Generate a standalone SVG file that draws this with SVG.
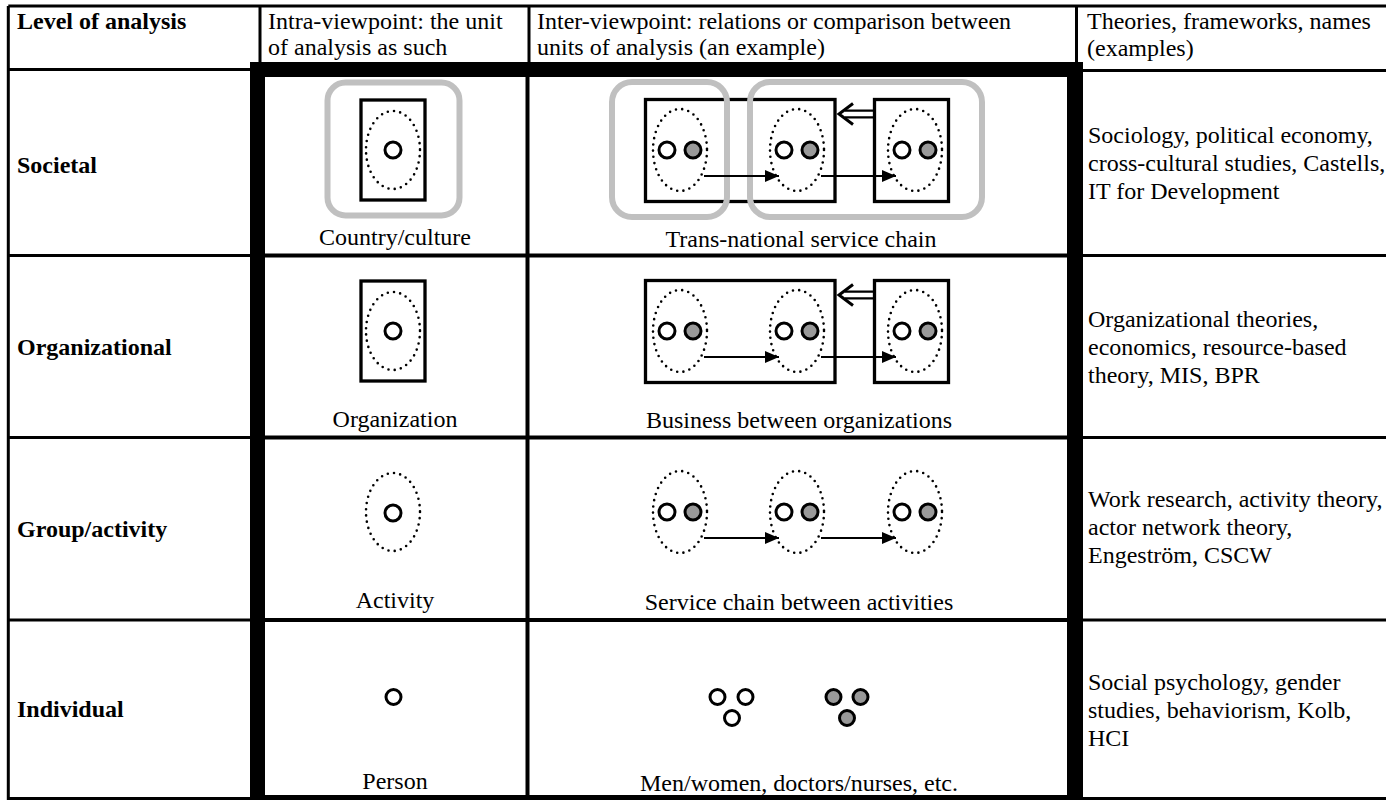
<svg xmlns="http://www.w3.org/2000/svg" width="1386" height="800" viewBox="0 0 1386 800" font-family="'Liberation Serif', 'Times New Roman', 'DejaVu Serif', serif">
  <defs>
    <style>
      text { font-family: 'Liberation Serif', 'Times New Roman', 'DejaVu Serif', serif; font-size: 24px; fill: #000; }
      .b { font-weight: bold; }
      .mid { text-anchor: middle; }
      .thin { stroke: #000; stroke-width: 3; fill: none; }
      .sep { stroke: #000; stroke-width: 4; fill: none; }
      .box { fill: none; stroke: #000; stroke-width: 3.3; }
      .grp { fill: none; stroke: #c0c0c0; stroke-width: 6; }
      .act { fill: none; stroke: #000; stroke-width: 2.6; stroke-dasharray: 0 6.3; stroke-linecap: round; }
      .p { fill: #fff; stroke: #000; stroke-width: 3; }
      .pg { fill: #999; stroke: #000; stroke-width: 3; }
      .flow { stroke: #000; stroke-width: 2; fill: none; marker-end: url(#ah); }
      .dbl { stroke: #000; stroke-width: 2.2; fill: none; }
      .chev { stroke: #000; stroke-width: 3; fill: none; stroke-linejoin: miter; }
    </style>
    <marker id="ah" viewBox="0 0 14 12" refX="14" refY="6" markerWidth="14" markerHeight="12" markerUnits="userSpaceOnUse" orient="auto">
      <path d="M0,0 L14,6 L0,12 z" fill="#000"/>
    </marker>
  </defs>

  <rect width="1386" height="800" fill="#fff"/>

  <!-- table grid -->
  <g id="grid">
    <path class="thin" d="M8.3,6 H1386 M8.3,6 V798.5 H250 M1083,798.5 H1386"/>
    <path class="thin" d="M260,6 V62 M529,6 V62 M1076.5,6 V62"/>
    <path class="thin" d="M8.3,69.5 H250 M1083,70.5 H1386"/>
    <path class="thin" d="M8.3,255.5 H250 M8.3,437.5 H250 M8.3,620 H250"/>
    <path class="thin" d="M1083,255.5 H1386 M1083,437.5 H1386 M1083,620 H1386"/>
    <path class="sep" d="M265,255.5 H1067 M265,437.5 H1067 M265,620 H1067 M527.5,77 V795"/>
    <path fill="#000" fill-rule="evenodd" d="M250,62 H1083 V800 H250 Z M265,77 V795 H1067 V77 Z"/>
  </g>

  <!-- header row -->
  <g id="header">
    <text class="b" x="17" y="29">Level of analysis</text>
    <text x="268" y="29">Intra-viewpoint: the unit</text>
    <text x="268" y="55">of analysis as such</text>
    <text x="537" y="29">Inter-viewpoint: relations or comparison between</text>
    <text x="537" y="55">units of analysis (an example)</text>
    <text x="1087" y="29">Theories, frameworks, names</text>
    <text x="1087" y="56">(examples)</text>
  </g>

  <!-- societal level -->
  <g id="societal-level"><text class="b" x="17" y="173">Societal</text></g>
  <g id="societal-intra">
    <rect class="box" x="361" y="100" width="64" height="100"/>
    <ellipse class="act" cx="393" cy="150" rx="27" ry="39"/>
    <circle class="p" cx="393" cy="150" r="8"/>
    <rect class="grp" x="327.5" y="82.5" width="132" height="133" rx="18"/>
    <text class="mid" x="395" y="245">Country/culture</text>
  </g>
  <g id="societal-inter">
    <rect class="box" x="645.5" y="99.5" width="189.5" height="102"/>
    <rect class="box" x="874.5" y="99.5" width="74" height="102"/>
    <ellipse class="act" cx="680" cy="150" rx="27" ry="41"/>
    <ellipse class="act" cx="797" cy="150" rx="27" ry="41"/>
    <ellipse class="act" cx="915" cy="150" rx="27" ry="41"/>
    <circle class="p" cx="667" cy="150" r="8"/><circle class="pg" cx="693" cy="150" r="8"/>
    <circle class="p" cx="784" cy="150" r="8"/><circle class="pg" cx="810" cy="150" r="8"/>
    <circle class="p" cx="902" cy="150" r="8"/><circle class="pg" cx="928" cy="150" r="8"/>
    <rect class="grp" x="612" y="82" width="115" height="135" rx="20"/>
    <rect class="grp" x="750" y="82" width="232" height="135" rx="20"/>
    <text class="mid" x="801" y="247">Trans-national service chain</text>
  </g>
  <g id="societal-theories">
    <text x="1088" y="143">Sociology, political economy,</text>
    <text x="1088" y="171">cross-cultural studies, Castells,</text>
    <text x="1088" y="199">IT for Development</text>
  </g>

  <!-- organizational level -->
  <g id="organizational-level"><text class="b" x="17" y="355">Organizational</text></g>
  <g id="organizational-intra">
    <rect class="box" x="361" y="281" width="64" height="100"/>
    <ellipse class="act" cx="393" cy="331" rx="27" ry="39"/>
    <circle class="p" cx="393" cy="331" r="8"/>
    <text class="mid" x="395" y="427">Organization</text>
  </g>
  <g id="organizational-inter">
    <rect class="box" x="645.5" y="280.5" width="189.5" height="102"/>
    <rect class="box" x="874.5" y="280.5" width="74" height="102"/>
    <ellipse class="act" cx="680" cy="331" rx="27" ry="41"/>
    <ellipse class="act" cx="797" cy="331" rx="27" ry="41"/>
    <ellipse class="act" cx="915" cy="331" rx="27" ry="41"/>
    <circle class="p" cx="667" cy="331" r="8"/><circle class="pg" cx="693" cy="331" r="8"/>
    <circle class="p" cx="784" cy="331" r="8"/><circle class="pg" cx="810" cy="331" r="8"/>
    <circle class="p" cx="902" cy="331" r="8"/><circle class="pg" cx="928" cy="331" r="8"/>
    <text class="mid" x="799" y="428">Business between organizations</text>
  </g>
  <g id="organizational-theories">
    <text x="1088" y="327">Organizational theories,</text>
    <text x="1088" y="355">economics, resource-based</text>
    <text x="1088" y="383">theory, MIS, BPR</text>
  </g>

  <!-- group/activity level -->
  <g id="group-level"><text class="b" x="17" y="537">Group/activity</text></g>
  <g id="group-intra">
    <ellipse class="act" cx="393" cy="512" rx="27" ry="39"/>
    <circle class="p" cx="393" cy="513" r="8"/>
    <text class="mid" x="395" y="608">Activity</text>
  </g>
  <g id="group-inter">
    <ellipse class="act" cx="680" cy="512" rx="27" ry="41"/>
    <ellipse class="act" cx="797" cy="512" rx="27" ry="41"/>
    <ellipse class="act" cx="915" cy="512" rx="27" ry="41"/>
    <circle class="p" cx="667" cy="512" r="8"/><circle class="pg" cx="693" cy="512" r="8"/>
    <circle class="p" cx="784" cy="512" r="8"/><circle class="pg" cx="810" cy="512" r="8"/>
    <circle class="p" cx="902" cy="512" r="8"/><circle class="pg" cx="928" cy="512" r="8"/>
    <text class="mid" x="799" y="610">Service chain between activities</text>
  </g>
  <g id="group-theories">
    <text x="1088" y="507">Work research, activity theory,</text>
    <text x="1088" y="535">actor network theory,</text>
    <text x="1088" y="563">Engeström, CSCW</text>
  </g>

  <!-- individual level -->
  <g id="individual-level"><text class="b" x="17" y="717">Individual</text></g>
  <g id="individual-intra">
    <circle class="p" cx="393.5" cy="697" r="7.5"/>
    <text class="mid" x="395" y="789">Person</text>
  </g>
  <g id="individual-inter">
    <circle class="p" cx="717.5" cy="697" r="7.5"/>
    <circle class="p" cx="745.5" cy="697" r="7.5"/>
    <circle class="p" cx="732" cy="718" r="7.5"/>
    <circle class="pg" cx="833.5" cy="697" r="7.5"/>
    <circle class="pg" cx="860.5" cy="697" r="7.5"/>
    <circle class="pg" cx="847" cy="718" r="7.5"/>
    <text class="mid" x="799" y="791">Men/women, doctors/nurses, etc.</text>
  </g>
  <g id="individual-theories">
    <text x="1088" y="690">Social psychology, gender</text>
    <text x="1088" y="718">studies, behaviorism, Kolb,</text>
    <text x="1088" y="746">HCI</text>
  </g>

  <!-- connectors -->
  <g id="connectors">
    <path class="flow" d="M704,176 H779"/>
    <path class="flow" d="M821,176 H896"/>
    <path class="dbl" d="M845,110.7 H874 M845,117.3 H874"/>
    <path class="chev" d="M853,103.5 L839,114 L853,124.5"/>

    <path class="flow" d="M704,357 H779"/>
    <path class="flow" d="M821,357 H896"/>
    <path class="dbl" d="M845,291.7 H874 M845,298.3 H874"/>
    <path class="chev" d="M853,284.5 L839,295 L853,305.5"/>

    <path class="flow" d="M704,538 H779"/>
    <path class="flow" d="M821,538 H896"/>
  </g>
</svg>
